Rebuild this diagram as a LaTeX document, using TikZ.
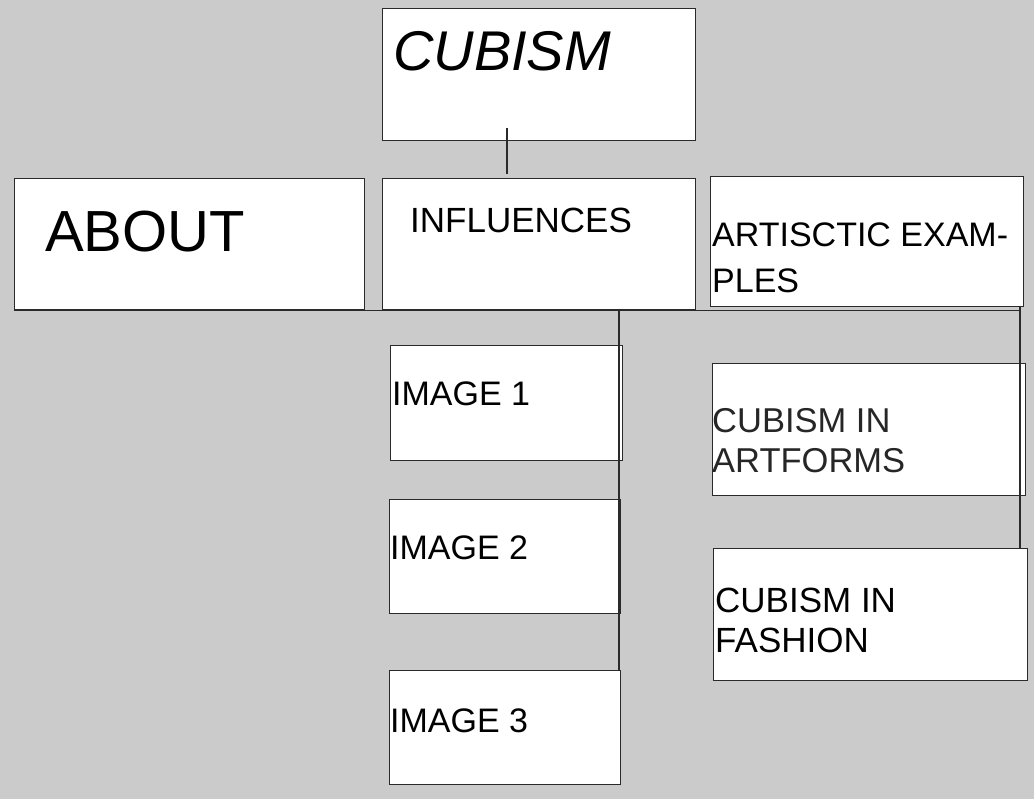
\documentclass[tikz,border=0pt]{standalone}
\usepackage{fontspec}
\setmainfont{Liberation Sans}
\definecolor{bg}{HTML}{CBCBCB}
\definecolor{ln}{HTML}{2A2A2A}
\tikzset{
  box/.style={draw=ln, line width=1.3pt, fill=white, inner sep=0pt, anchor=north west},
  txt/.style={anchor=base west, inner sep=0pt, text=black},
  conn/.style={draw=ln, line width=1.1pt}
}
\newcommand{\bx}[5]{\node[box, minimum width=#4pt, minimum height=#5pt] (#1) at (#2,#3) {};}
\begin{document}
\begin{tikzpicture}[x=1pt,y=-1pt]
\fill[bg] (0,0) rectangle (1034,799);
\useasboundingbox (0,0) rectangle (1034,799);
% boxes
\bx{cubism}{382}{8}{313}{132}
\bx{about}{14}{178}{350}{131}
\bx{influences}{382}{178}{313}{131}
\bx{artistic}{710}{176}{313}{130}
\bx{img1}{390}{345}{232}{115}
\bx{img2}{389}{499}{231}{114}
\bx{img3}{389}{670}{231}{114}
\bx{artforms}{712}{363}{313}{132}
\bx{fashion}{713}{548}{314}{132}
% texts
\node[txt, font=\fontsize{56}{60}\selectfont\itshape] (tcubism) at (393,71) {CUBISM};
\node[txt, font=\fontsize{58}{60}\selectfont] (tabout) at (45,252) {ABOUT};
\node[txt, font=\fontsize{35}{40}\selectfont] (tinfl) at (410,233) {INFLUENCES};
\node[txt, font=\fontsize{34}{40}\selectfont] (tart1) at (712,247) {ARTISCTIC EXAM-};
\node[txt, font=\fontsize{34}{40}\selectfont] (tart2) at (712,293) {PLES};
\node[txt, font=\fontsize{34}{40}\selectfont] (timg1) at (392,406) {IMAGE 1};
\node[txt, font=\fontsize{34}{40}\selectfont] (timg2) at (390,559) {IMAGE 2};
\node[txt, font=\fontsize{34}{40}\selectfont] (timg3) at (390,732) {IMAGE 3};
\node[txt, font=\fontsize{34.5}{40}\selectfont, text=black!85] (taf1) at (712,433) {CUBISM IN};
\node[txt, font=\fontsize{34.5}{40}\selectfont, text=black!85] (taf2) at (712,473) {ARTFORMS};
\node[txt, font=\fontsize{35}{40}\selectfont] (tfa1) at (715,612) {CUBISM IN};
\node[txt, font=\fontsize{35}{40}\selectfont] (tfa2) at (715,652) {FASHION};
% connectors
\coordinate (c1a) at (507,128);
\coordinate (c1b) at (507,174);
\draw[conn] (c1a) -- (c1b);
\draw[conn] (about.south west) -- (about.south west -| 1020,0);
\coordinate (c2a) at (619,309);
\draw[conn] (c2a) -- (c2a |- img3.north);
\coordinate (c3a) at (1020,306);
\draw[conn] (c3a) -- (c3a |- fashion.north);
\end{tikzpicture}
\end{document}
